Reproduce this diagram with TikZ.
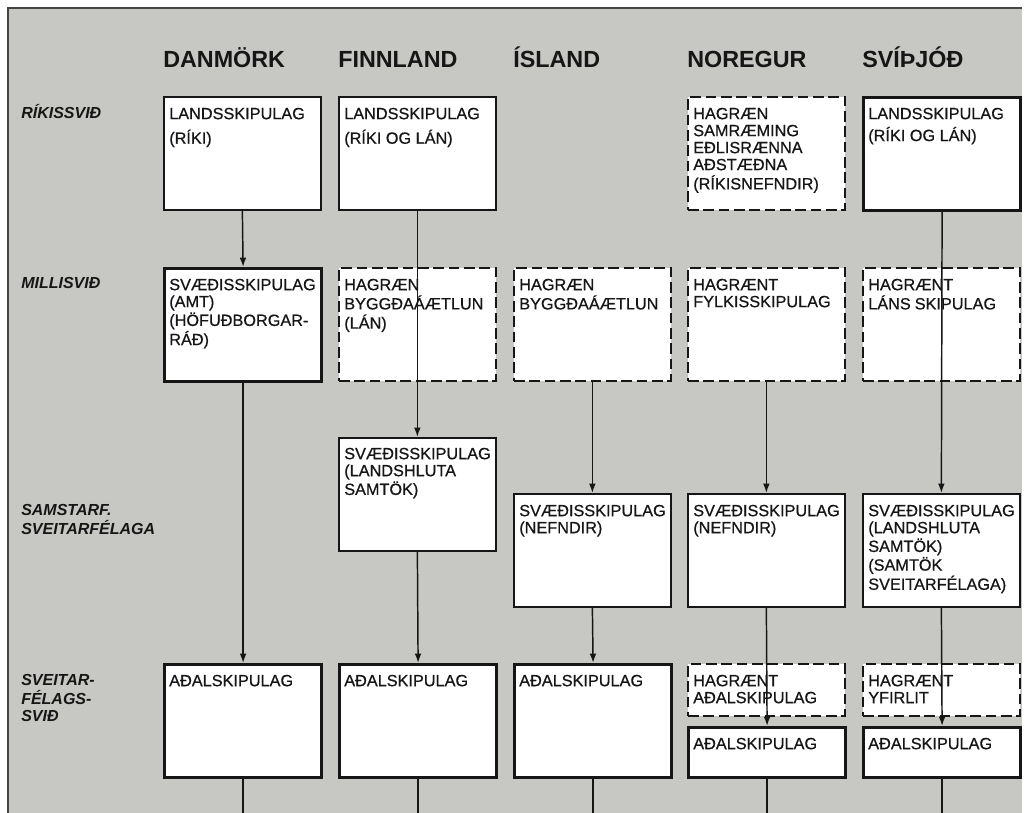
\documentclass[tikz,border=0pt]{standalone}
\usepackage{fontspec}
\setmainfont{Liberation Sans}
\newfontfamily\cellfont{Liberation Sans}[FakeBold=0.6]
\usetikzlibrary{arrows.meta}

\definecolor{paper}{RGB}{199,199,196}
\definecolor{ink}{RGB}{22,22,22}

% lines stacked from the top, baseline on the first one
\newcommand\cellrows[1]{\begin{tabular}[t]{@{}l@{}}#1\end{tabular}}

\begin{document}
\begin{tikzpicture}[x=0.75pt, y=-0.75pt,
	box/.style={draw=ink, fill=white, anchor=north west, inner sep=0pt,
		minimum width=117.75pt, minimum height=84.75pt, line width=1.3pt},
	strong/.style={box, line width=2.4pt},
	dashbox/.style={box, dash pattern=on 8pt off 3.5pt},
	txt/.style={anchor=north west, inner sep=0pt, text height=8.2pt, text=ink,
		font=\cellfont\fontsize{12.2}{12.75}\selectfont},
	lbl/.style={txt, font=\bfseries\itshape\fontsize{12}{12.75}\selectfont},
	head/.style={anchor=base west, inner sep=0pt, text=ink,
		font=\bfseries\fontsize{17.5}{20}\selectfont},
	link/.style={draw=ink, line width=1.1pt, -{Latex[length=7pt,width=5pt]}},
	tail/.style={draw=ink, line width=1.1pt}]

	\useasboundingbox (0,0) rectangle (1028,813);
	\fill[white] (0,0) rectangle (1028,813);
	\fill[paper] (8,8) rectangle (1022,813);
	\draw[ink!80, line width=1pt] (8,813) -- (8,8) -- (1022,8);
	\coordinate (foot) at (0,813);

	% countries
	\node[head] (dk) at (163,68) {DANMÖRK};
	\node[head] (fi) at (338,68) {FINNLAND};
	\node[head] (is) at (513,68) {ÍSLAND};
	\node[head] (no) at (687,68) {NOREGUR};
	\node[head] (sv) at (862,68) {SVÍÞJÓÐ};

	% levels
	\node[lbl] (rikis) at (21,107) {RÍKISSVIÐ};
	\node[lbl] (milli) at (21,277) {MILLISVIÐ};
	\node[lbl] (samst) at (21,504) {\cellrows{SAMSTARF.\\SVEITARFÉLAGA}};
	\node[lbl] (sveit) at (21,674) {\cellrows{SVEITAR-\\FÉLAGS-\\SVIÐ}};

	% ríkissvið
	\node[box] (dk1) at (163,96) {};
	\node[box] (fi1) at (338,96) {};
	\node[dashbox] (no1) at (687,96) {};
	\node[strong] (sv1) at (862,96) {};
	\node[txt] (dk1t) at ([shift={(6,12)}]dk1.north west) {\cellrows{LANDSSKIPULAG\\[4pt](RÍKI)}};
	\node[txt] (fi1t) at ([shift={(6,12)}]fi1.north west) {\cellrows{LANDSSKIPULAG\\[4pt](RÍKI OG LÁN)}};
	\node[txt] (no1t) at ([shift={(6,12)}]no1.north west) {\cellrows{HAGRÆN\\SAMRÆMING\\EÐLISRÆNNA\\AÐSTÆÐNA\\(RÍKISNEFNDIR)}};
	\node[txt] (sv1t) at ([shift={(6,12)}]sv1.north west) {\cellrows{LANDSSKIPULAG\\[2pt](RÍKI OG LÁN)}};

	% millisvið
	\node[strong] (dk2) at (163,267) {};
	\node[dashbox] (fi2) at (338,267) {};
	\node[dashbox] (is2) at (513,267) {};
	\node[dashbox] (no2) at (687,267) {};
	\node[dashbox] (sv2) at (862,267) {};
	\node[txt] (dk2t) at ([shift={(6,12)}]dk2.north west) {\cellrows{SVÆÐISSKIPULAG\\(AMT)\\(HÖFUÐBORGAR-\\RÁÐ)}};
	\node[txt] (fi2t) at ([shift={(6,12)}]fi2.north west) {\cellrows{HAGRÆN\\BYGGÐAÁÆTLUN\\(LÁN)}};
	\node[txt] (is2t) at ([shift={(6,12)}]is2.north west) {\cellrows{HAGRÆN\\BYGGÐAÁÆTLUN}};
	\node[txt] (no2t) at ([shift={(6,12)}]no2.north west) {\cellrows{HAGRÆNT\\FYLKISSKIPULAG}};
	\node[txt] (sv2t) at ([shift={(6,12)}]sv2.north west) {\cellrows{HAGRÆNT\\LÁNS\hspace{3pt}SKIPULAG}};

	% samstarf sveitarfélaga
	\node[box] (fi3) at (338,437) {};
	\node[box] (is3) at (513,493) {};
	\node[box] (no3) at (687,493) {};
	\node[box] (sv3) at (862,493) {};
	\node[txt] (fi3t) at ([shift={(6,11)}]fi3.north west) {\cellrows{SVÆÐISSKIPULAG\\(LANDSHLUTA\\SAMTÖK)}};
	\node[txt] (is3t) at ([shift={(6,12)}]is3.north west) {\cellrows{SVÆÐISSKIPULAG\\(NEFNDIR)}};
	\node[txt] (no3t) at ([shift={(6,12)}]no3.north west) {\cellrows{SVÆÐISSKIPULAG\\(NEFNDIR)}};
	\node[txt] (sv3t) at ([shift={(6,12)}]sv3.north west) {\cellrows{SVÆÐISSKIPULAG\\(LANDSHLUTA\\SAMTÖK)\\(SAMTÖK\\SVEITARFÉLAGA)}};

	% sveitarfélagssvið
	\node[strong] (dk4) at (163,663) {};
	\node[strong] (fi4) at (338,663) {};
	\node[strong] (is4) at (513,663) {};
	\node[dashbox, minimum height=39pt] (no4a) at (687,663) {};
	\node[strong, minimum height=37.5pt] (no4b) at (687,726) {};
	\node[dashbox, minimum height=39pt] (sv4a) at (862,663) {};
	\node[strong, minimum height=37.5pt] (sv4b) at (862,726) {};
	\foreach \n in {dk4,fi4,is4,no4b,sv4b}
		\node[txt] (\n t) at ([shift={(6,12)}]\n.north west) {AÐALSKIPULAG};
	\node[txt] (no4at) at ([shift={(6,12)}]no4a.north west) {\cellrows{HAGRÆNT\\AÐALSKIPULAG}};
	\node[txt] (sv4at) at ([shift={(6,12)}]sv4a.north west) {\cellrows{HAGRÆNT\\YFIRLIT}};

	% connections
	\draw[link] (dk1.south) -- (dk2.north);
	\draw[link] (dk2.south) -- (dk4.north);
	\draw[link] (fi1.south) -- (fi3.north);
	\draw[link] (fi3.south) -- (fi4.north);
	\draw[link] (is2.south) -- (is3.north);
	\draw[link] (is3.south) -- (is4.north);
	\draw[link] (no2.south) -- (no3.north);
	\draw[link] (no3.south) -- (no4b.north);
	\draw[link] (sv1.south) -- (sv3.north);
	\draw[link] (sv3.south) -- (sv4b.north);
	\foreach \n in {dk4,fi4,is4,no4b,sv4b}
		\draw[tail] (\n.south) -- (\n.south |- foot);
\end{tikzpicture}
\end{document}
